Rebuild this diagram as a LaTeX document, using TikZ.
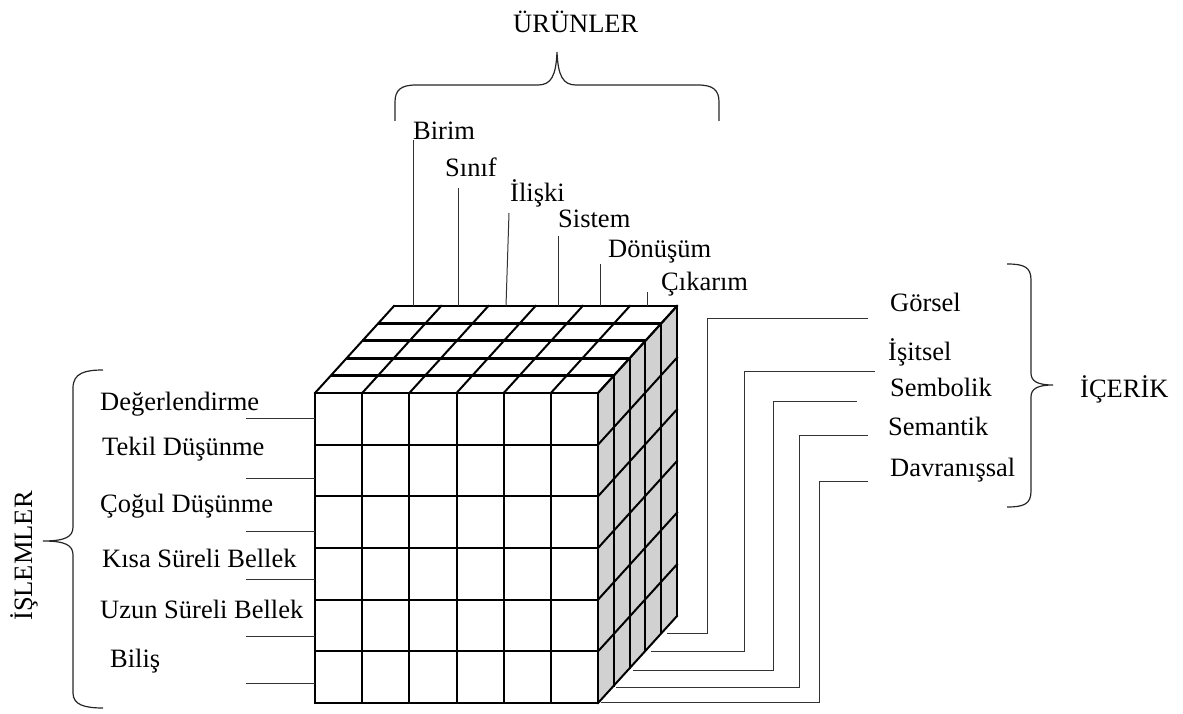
\documentclass[tikz,border=0pt]{standalone}
\usepackage{fontspec}
\setmainfont{Liberation Serif}
\begin{document}
\begin{tikzpicture}[x=1pt,y=-1pt,
  lbl/.style={font=\fontsize{26.5}{30}\selectfont, inner sep=0pt, anchor=base west},
  cube/.style={line width=2pt, line join=miter, line cap=rect},
  topline/.style={line width=3pt},
  leader/.style={line width=1pt, draw=black!80},
  bracestyle/.style={line width=1.2pt, draw=black!85}]
\useasboundingbox (0,0) rectangle (1183,714);
\def\X{315}\def\Y{393}\def\W{47.17}\def\H{51.67}\def\dx{15.8}\def\dy{-17.4}
% faces
\fill[white] (\X,\Y) rectangle ({\X+6*\W},{\Y+6*\H});
\fill[black!18] ({\X+6*\W},\Y) -- ({\X+6*\W+5*\dx},{\Y+5*\dy}) -- ({\X+6*\W+5*\dx},{\Y+6*\H+5*\dy}) -- ({\X+6*\W},{\Y+6*\H}) -- cycle;
% front grid
\foreach \i in {0,...,6}{
  \draw[cube] ({\X+\i*\W},\Y) -- ({\X+\i*\W},{\Y+6*\H});
  \draw[cube] (\X,{\Y+\i*\H}) -- ({\X+6*\W},{\Y+\i*\H});
}
% top face
\foreach \k in {1,...,4}{
  \draw[topline] ({\X+\k*\dx},{\Y+\k*\dy}) -- ({\X+6*\W+\k*\dx},{\Y+\k*\dy});
}
\draw[cube] ({\X+5*\dx},{\Y+5*\dy}) -- ({\X+6*\W+5*\dx},{\Y+5*\dy});
\foreach \i in {0,...,6}{
  \draw[cube] ({\X+\i*\W},\Y) -- ({\X+\i*\W+5*\dx},{\Y+5*\dy});
}
% right face
\foreach \k in {0,...,5}{
  \draw[cube] ({\X+6*\W+\k*\dx},{\Y+\k*\dy}) -- ({\X+6*\W+\k*\dx},{\Y+6*\H+\k*\dy});
}
\foreach \i in {0,...,6}{
  \draw[cube] ({\X+6*\W},{\Y+\i*\H}) -- ({\X+6*\W+5*\dx},{\Y+\i*\H+5*\dy});
}
% ---------- top labels (URUNLER)
\node[lbl] (urun) at (513,33) {ÜRÜNLER};
\draw[bracestyle] (395,121) -- (395,102) .. controls (395,90) and (401,85) .. (416,85) -- (538,85) .. controls (551,85) and (556,76) .. (557,52) .. controls (558,76) and (563,85) .. (576,85) -- (698,85) .. controls (713,85) and (719,90) .. (719,102) -- (719,121);
\node[lbl] (birim) at (413,140) {Birim};
\node[lbl] (sinif) at (445,177) {Sınıf};
\node[lbl] (iliski) at (510,202) {İlişki};
\node[lbl] (sistem) at (558,227) {Sistem};
\node[lbl] (donusum) at (608,257) {Dönüşüm};
\node[lbl] (cikarim) at (661,290) {Çıkarım};
\coordinate (b1) at (413,306); \coordinate (b2) at (458,306); \coordinate (b3) at (506,306);
\coordinate (b4) at (558,306); \coordinate (b5) at (600,306); \coordinate (b6) at (647,306);
\draw[leader] (birim.base west) ++(0,0) coordinate (t1) (t1) -- (b1);
\draw[leader] (458,188) coordinate (t2) -- (b2);
\draw[leader] (509,213) coordinate (t3) -- (b3);
\draw[leader] (558,236) coordinate (t4) -- (b4);
\draw[leader] (600,264) coordinate (t5) -- (b5);
\draw[leader] (647,292) coordinate (t6) -- (b6);
% ---------- left labels (ISLEMLER)
\node[lbl, rotate=90, anchor=base] (islem) at (32,556) {İŞLEMLER};
\draw[bracestyle] (103,370) .. controls (85,370) and (73,373) .. (73,388) -- (73,527) .. controls (73,537) and (65,541) .. (43,541) .. controls (65,541) and (73,545) .. (73,555) -- (73,693) .. controls (73,705) and (85,708) .. (103,708);
\node[lbl] (deg) at (100,410) {Değerlendirme};
\node[lbl] (tekil) at (102,455) {Tekil Düşünme};
\node[lbl] (cogul) at (100,512) {Çoğul Düşünme};
\node[lbl] (kisa) at (102,567) {Kısa Süreli Bellek};
\node[lbl] (uzun) at (100,618) {Uzun Süreli Bellek};
\node[lbl] (bilis) at (110,667) {Biliş};
\foreach \y/\n in {418/1,478/2,531/3,579/4,636/5,683/6}{
  \coordinate (l\n) at (246,\y); \coordinate (r\n) at (315,\y);
  \draw[leader] (l\n) -- (r\n);
}
% ---------- right labels (ICERIK)
\node[lbl] (icerik) at (1080,397) {İÇERİK};
\draw[bracestyle] (1007,264) .. controls (1024,264) and (1031,267) .. (1031,280) -- (1031,373) .. controls (1031,381) and (1037,385) .. (1053,385) .. controls (1037,385) and (1031,389) .. (1031,397) -- (1031,491) .. controls (1031,504) and (1024,507) .. (1007,507);
\node[lbl] (gorsel) at (890,311) {Görsel};
\node[lbl] (isitsel) at (888,360) {İşitsel};
\node[lbl] (sembolik) at (890,396) {Sembolik};
\node[lbl] (semantik) at (888,435) {Semantik};
\node[lbl] (davranis) at (890,476) {Davranışsal};
\coordinate (s1) at (667,633); \coordinate (e1) at (868,318);
\coordinate (s2) at (651,651); \coordinate (e2) at (875,371);
\coordinate (s3) at (633,670); \coordinate (e3) at (857,401);
\coordinate (s4) at (616,687); \coordinate (e4) at (868,435);
\coordinate (s5) at (601,702); \coordinate (e5) at (868,481);
\draw[leader] (s1) -- (707,633) -- (707,318) -- (e1);
\draw[leader] (s2) -- (744,651) -- (744,371) -- (e2);
\draw[leader] (s3) -- (773,670) -- (773,401) -- (e3);
\draw[leader] (s4) -- (799,687) -- (799,435) -- (e4);
\draw[leader] (s5) -- (819,702) -- (819,481) -- (e5);
\end{tikzpicture}
\end{document}
